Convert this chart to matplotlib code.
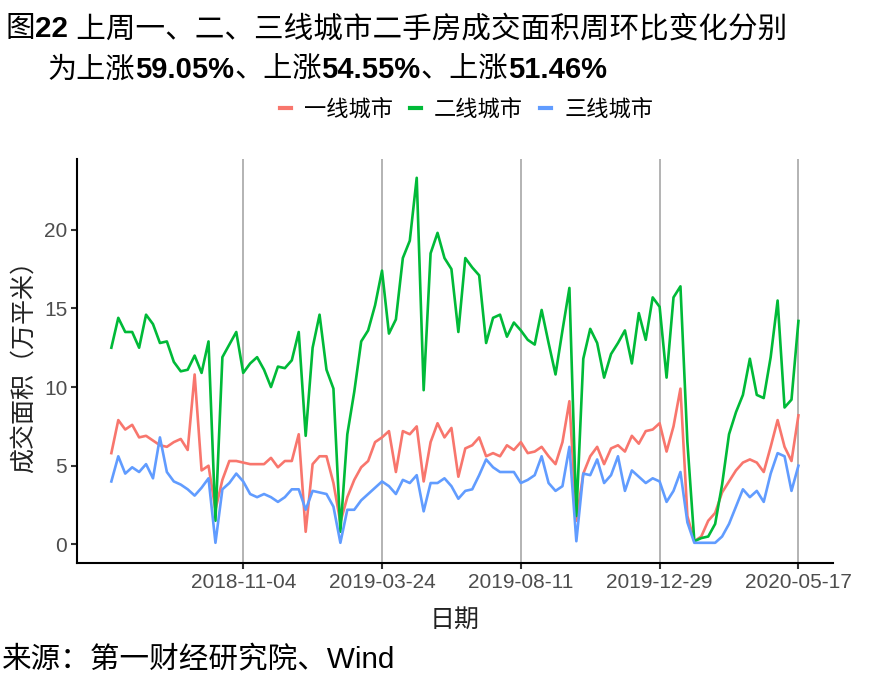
import pandas as pd
import matplotlib
matplotlib.use('Agg')
import matplotlib.pyplot as plt

plt.rcParams['font.family'] = ['Liberation Sans', 'Noto Sans CJK SC', 'DejaVu Sans']

# weekly dates, 2018-06-24 .. 2020-05-17
dates = pd.date_range('2018-06-24', periods=100, freq='7D')

tier1 = [5.8, 7.9, 7.3, 7.6, 6.8, 6.9, 6.6, 6.3, 6.2, 6.5,
         6.7, 6.0, 10.8, 4.7, 5.0, 2.2, 4.1, 5.3, 5.3, 5.2,
         5.1, 5.1, 5.1, 5.5, 4.9, 5.3, 5.3, 7.0, 0.8, 5.1,
         5.6, 5.6, 3.9, 1.4, 3.0, 4.1, 4.9, 5.3, 6.5, 6.8,
         7.2, 4.6, 7.2, 7.0, 7.5, 4.0, 6.5, 7.7, 6.8, 7.4,
         4.3, 6.1, 6.3, 6.8, 5.6, 5.8, 5.6, 6.3, 6.0, 6.5,
         5.8, 5.9, 6.2, 5.6, 5.1, 6.5, 9.1, 1.5, 4.5, 5.6,
         6.2, 5.1, 6.1, 6.3, 5.9, 6.9, 6.4, 7.2, 7.3, 7.7,
         5.9, 7.5, 9.9, 1.8, 0.2, 0.5, 1.5, 2.0, 3.3, 4.0,
         4.7, 5.2, 5.4, 5.2, 4.6, 6.2, 7.9, 6.2, 5.3, 8.2]

tier2 = [12.5, 14.4, 13.5, 13.5, 12.5, 14.6, 14.0, 12.8, 12.9, 11.6,
         11.0, 11.1, 12.0, 10.9, 12.9, 1.5, 11.9, 12.7, 13.5, 10.9,
         11.5, 11.9, 11.1, 10.0, 11.3, 11.2, 11.7, 13.5, 6.9, 12.5,
         14.6, 11.1, 9.9, 0.8, 7.0, 9.7, 12.9, 13.6, 15.2, 17.4,
         13.4, 14.3, 18.2, 19.3, 23.3, 9.8, 18.5, 19.8, 18.2, 17.5,
         13.5, 18.2, 17.6, 17.1, 12.8, 14.4, 14.6, 13.2, 14.1, 13.6,
         13.0, 12.7, 14.9, 12.8, 10.8, 13.6, 16.3, 1.8, 11.8, 13.7,
         12.8, 10.6, 12.1, 12.8, 13.6, 11.5, 14.7, 13.0, 15.7, 15.1,
         10.6, 15.7, 16.4, 6.5, 0.2, 0.4, 0.5, 1.3, 3.8, 7.0,
         8.4, 9.5, 11.8, 9.5, 9.3, 11.9, 15.5, 8.7, 9.2, 14.2]

tier3 = [4.0, 5.6, 4.5, 4.9, 4.6, 5.1, 4.2, 6.8, 4.6, 4.0,
         3.8, 3.5, 3.1, 3.6, 4.2, 0.1, 3.5, 3.9, 4.5, 4.0,
         3.2, 3.0, 3.2, 3.0, 2.7, 3.0, 3.5, 3.5, 2.2, 3.4,
         3.3, 3.2, 2.4, 0.1, 2.2, 2.2, 2.8, 3.2, 3.6, 4.0,
         3.7, 3.2, 4.1, 3.9, 4.4, 2.1, 3.9, 3.9, 4.2, 3.7,
         2.9, 3.4, 3.5, 4.4, 5.4, 4.9, 4.6, 4.6, 4.6, 3.9,
         4.1, 4.4, 5.6, 3.9, 3.4, 3.7, 6.2, 0.2, 4.5, 4.4,
         5.4, 3.9, 4.4, 5.6, 3.4, 4.7, 4.3, 3.9, 4.2, 4.0,
         2.7, 3.4, 4.6, 1.4, 0.1, 0.1, 0.1, 0.1, 0.5, 1.3,
         2.4, 3.5, 3.0, 3.4, 2.7, 4.5, 5.8, 5.6, 3.4, 5.0]

series_names = ['一线城市', '二线城市', '三线城市']
colors = ['#F8766D', '#00BA38', '#619CFF']
tick_labels = ['2018-11-04', '2019-03-24', '2019-08-11', '2019-12-29', '2020-05-17']
y_ticks = [0, 5, 10, 15, 20]

fig = plt.figure(figsize=(8.85, 6.88), dpi=100)
ax = fig.add_axes([0.087, 0.182, 0.854, 0.587])

tick_dates = pd.to_datetime(tick_labels)
for d in tick_dates:
    ax.axvline(d, color='#b3b3b3', linewidth=1.4, zorder=0)

for vals, name, c in zip([tier1, tier2, tier3], series_names, colors):
    ax.plot(dates, vals, color=c, linewidth=1.9, label=name)

span = dates[-1] - dates[0]
ax.set_xlim(dates[0] - span * 0.05, dates[-1] + span * 0.05)
ax.set_ylim(-1.17, 24.5)
ax.set_xticks(tick_dates)
ax.set_xticklabels(tick_labels)
ax.set_yticks(y_ticks)

for s in ['top', 'right']:
    ax.spines[s].set_visible(False)
for s in ['left', 'bottom']:
    ax.spines[s].set_linewidth(1.5)
    ax.spines[s].set_color('black')
ax.tick_params(axis='both', direction='out', length=4, width=1.5, color='#333333',
               labelsize=15, labelcolor='#4d4d4d', pad=3)

ax.set_xlabel('日期', fontsize=18, color='#222222', labelpad=12)
ax.set_ylabel('成交面积（万平米）', fontsize=18, color='#222222', labelpad=6)

leg = fig.legend(loc='center', bbox_to_anchor=(0.527, 0.84), ncol=3, frameon=False,
                 fontsize=16, handlelength=0.5, handletextpad=0.6, columnspacing=0.75)
for h in leg.get_lines():
    h.set_linewidth(3)


def draw_runs(x, y, runs, size):
    # place text pieces one after another; latin parts bold
    renderer = fig.canvas.get_renderer()
    for s, bold in runs:
        t = fig.text(x, y, s, fontsize=size, fontweight='bold' if bold else 'normal',
                     color='black', va='baseline', ha='left')
        bb = t.get_window_extent(renderer)
        x += bb.width / fig.bbox.width


draw_runs(0.006, 1 - 37 / 688,
          [('图', False), ('22', True), (' 上周一、二、三线城市二手房成交面积周环比变化分别', False)], 21.3)
draw_runs(0.054, 1 - 78 / 688,
          [('为上涨', False), ('59.05%', True), ('、上涨', False), ('54.55%', True),
           ('、上涨', False), ('51.46%', True)], 21)
fig.text(0.002, 1 - 668 / 688, '来源：第一财经研究院、Wind', fontsize=21.3, va='baseline', ha='left')

fig.savefig('out.png', dpi=100)
